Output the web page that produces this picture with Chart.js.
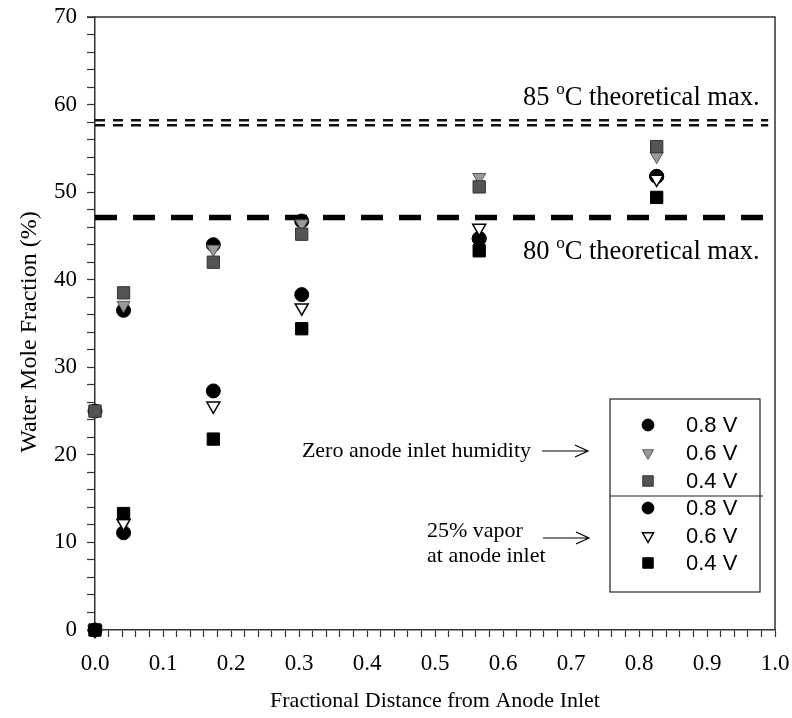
<!DOCTYPE html>
<html>
<head>
<meta charset="utf-8">
<script src="https://cdn.jsdelivr.net/npm/chart.js@4.4.0/dist/chart.umd.min.js"></script>
<style>
  html, body { margin: 0; padding: 0; background: #fff; }
  #wrap { width: 792px; height: 718px; }
</style>
</head>
<body>
<div id="wrap"><canvas id="chart" width="792" height="718"></canvas></div>
<script>
// fractional distance from the anode inlet where samples were taken
var distances = [0.0, 0.042, 0.174, 0.304, 0.565, 0.826];

// upper legend group (grey markers)
var zeroHum08 = [25.0, 36.5, 44.0, 46.7, 44.7, 51.8];
var zeroHum06 = [25.0, 37.1, 43.5, 46.4, 51.7, 54.1];
var zeroHum04 = [25.0, 38.5, 42.0, 45.2, 50.6, 55.2];

// lower legend group (black / open markers)
var vapor08 = [0.0, 11.1, 27.3, 38.3, 44.7, 51.8];
var vapor06 = [0.0, 12.2, 25.6, 36.8, 45.9, 51.5];
var vapor04 = [0.0, 13.3, 21.8, 34.4, 43.3, 49.4];

// theoretical maximum lines
var max80 = 47.1;
var max85 = [58.2, 57.65];
var max80Span = [0.0, 1.0];
var max85Span = [0.0, 0.99];

var legendLabels = ['0.8 V', '0.6 V', '0.4 V', '0.8 V', '0.6 V', '0.4 V'];

var SERIF = '"Liberation Serif", "Times New Roman", serif';
var SANS = '"Liberation Sans", Arial, sans-serif';

function toPoints(ys) {
	var pts = [];
	for (var i = 0; i < ys.length; i++) {
		pts.push({ x: distances[i], y: ys[i] });
	}
	return pts;
}

function flatLine(y, span) {
	return [{ x: span[0], y: y }, { x: span[1], y: y }];
}

// marker styles, same objects used for the plot and the hand drawn legend
var markers = [
	{ pointStyle: 'circle', rotation: 0, radius: 7, bg: '#000', border: '#000', bw: 1 },
	{ pointStyle: 'triangle', rotation: 180, radius: 7.5, bg: '#9a9a9a', border: '#5a5a5a', bw: 1 },
	{ pointStyle: 'rect', rotation: 0, radius: 8.7, bg: '#545454', border: '#333', bw: 1 },
	{ pointStyle: 'circle', rotation: 0, radius: 7, bg: '#000', border: '#000', bw: 1 },
	{ pointStyle: 'triangle', rotation: 180, radius: 7.5, bg: '#fff', border: '#000', bw: 1.5 },
	{ pointStyle: 'rect', rotation: 0, radius: 8.7, bg: '#000', border: '#000', bw: 1 }
];
var seriesData = [zeroHum08, zeroHum06, zeroHum04, vapor08, vapor06, vapor04];

var datasets = [];
for (var s = 0; s < seriesData.length; s++) {
	var m = markers[s];
	datasets.push({
		type: 'scatter',
		label: legendLabels[s],
		data: toPoints(seriesData[s]),
		pointStyle: m.pointStyle,
		pointRotation: m.rotation,
		pointRadius: m.radius,
		pointBackgroundColor: m.bg,
		pointBorderColor: m.border,
		pointBorderWidth: m.bw,
		clip: false,
		// first dataset is drawn last by chart.js, so reverse the order
		order: 10 - s
	});
}
datasets.push({
	type: 'line', label: '80', data: flatLine(max80, max80Span),
	borderColor: '#000', borderWidth: 5.5, borderDash: [22, 16], pointRadius: 0, order: 20
});
for (var k = 0; k < max85.length; k++) {
	datasets.push({
		type: 'line', label: '85', data: flatLine(max85[k], max85Span),
		borderColor: '#111', borderWidth: 2.5, borderDash: [10, 8], pointRadius: 0, order: 20
	});
}

// writes "NN oC theoretical max." with a raised small o
function drawMaxLabel(ctx, num, x, y) {
	ctx.save();
	ctx.fillStyle = '#000';
	ctx.textBaseline = 'middle';
	ctx.textAlign = 'left';
	ctx.font = '26.5px ' + SERIF;
	ctx.fillText(num + ' ', x, y);
	x += ctx.measureText(num + ' ').width;
	ctx.font = '17px ' + SERIF;
	ctx.fillText('o', x, y - 8);
	x += ctx.measureText('o').width;
	ctx.font = '26.5px ' + SERIF;
	ctx.fillText('C theoretical max.', x, y);
	ctx.restore();
}

function drawArrow(ctx, x1, x2, y) {
	ctx.beginPath();
	ctx.moveTo(x1, y);
	ctx.lineTo(x2, y);
	ctx.moveTo(x2 - 13, y - 6);
	ctx.lineTo(x2, y);
	ctx.lineTo(x2 - 13, y + 6);
	ctx.stroke();
}

var decorPlugin = {
	id: 'decor',
	afterDraw: function(chart) {
		var ctx = chart.ctx;
		var area = chart.chartArea;
		var yScale = chart.scales.y;

		// top and right frame
		ctx.save();
		ctx.strokeStyle = '#333';
		ctx.lineWidth = 1.5;
		ctx.beginPath();
		ctx.moveTo(area.left - 8, area.top);
		ctx.lineTo(area.right, area.top);
		ctx.lineTo(area.right, area.bottom);
		ctx.stroke();
		ctx.restore();

		// y axis title, sits a bit below the middle of the axis in the original
		ctx.save();
		ctx.translate(30, 332);
		ctx.rotate(-Math.PI / 2);
		ctx.font = '24px ' + SERIF;
		ctx.fillStyle = '#000';
		ctx.textAlign = 'center';
		ctx.textBaseline = 'middle';
		ctx.fillText('Water Mole Fraction (%)', 0, 0);
		ctx.restore();

		drawMaxLabel(ctx, '85', 523, yScale.getPixelForValue(60.8));
		drawMaxLabel(ctx, '80', 523, yScale.getPixelForValue(43.2));

		// legend box
		var boxL = 610, boxT = 399, boxW = 150, boxH = 193;
		ctx.save();
		ctx.strokeStyle = '#222';
		ctx.lineWidth = 1.2;
		ctx.strokeRect(boxL, boxT, boxW, boxH);
		ctx.beginPath();
		ctx.moveTo(boxL, 496);
		ctx.lineTo(boxL + boxW + 3, 496);
		ctx.stroke();

		var rowY = [425, 453, 481, 508, 536, 563];
		ctx.font = '22px ' + SANS;
		ctx.textBaseline = 'middle';
		ctx.textAlign = 'left';
		for (var i = 0; i < rowY.length; i++) {
			var mk = markers[i];
			ctx.fillStyle = mk.bg;
			ctx.strokeStyle = mk.border;
			ctx.lineWidth = mk.bw;
			Chart.helpers.drawPoint(ctx, {
				pointStyle: mk.pointStyle,
				rotation: mk.rotation,
				radius: mk.radius * 0.85,
				borderWidth: mk.bw
			}, 648, rowY[i]);
			ctx.fillStyle = '#000';
			ctx.fillText(legendLabels[i], 686, rowY[i] + 1);
		}

		// annotations with arrows
		ctx.fillStyle = '#000';
		ctx.strokeStyle = '#000';
		ctx.lineWidth = 1.2;
		ctx.font = '22px ' + SERIF;
		ctx.textAlign = 'right';
		ctx.fillText('Zero anode inlet humidity', 531, 451);
		drawArrow(ctx, 542, 588, 451);
		ctx.textAlign = 'left';
		ctx.fillText('25% vapor', 427, 531);
		ctx.fillText('at anode inlet', 427, 556);
		drawArrow(ctx, 543, 589, 538);
		ctx.restore();
	}
};

var chart = new Chart(document.getElementById('chart'), {
	type: 'scatter',
	data: { datasets: datasets },
	options: {
		responsive: false,
		animation: false,
		events: [],
		layout: { padding: { left: 0, top: 17, right: 17, bottom: 0 } },
		plugins: {
			legend: { display: false },
			tooltip: { enabled: false }
		},
		scales: {
			x: {
				type: 'linear',
				min: 0,
				max: 1,
				afterFit: function(scale) {
					scale.height = 88;
					scale.paddingLeft = 0;
					scale.paddingRight = 0;
				},
				border: { display: true, color: '#333', width: 1.5 },
				grid: { drawOnChartArea: false, tickLength: 7, color: '#333', tickWidth: 1.2 },
				ticks: {
					stepSize: 0.02,
					autoSkip: false,
					maxRotation: 0,
					padding: 13,
					color: '#000',
					font: { family: SERIF, size: 23 },
					callback: function(v) {
						var t = v * 10;
						return Math.abs(t - Math.round(t)) < 1e-6 ? v.toFixed(1) : '';
					}
				},
				title: {
					display: true,
					text: 'Fractional Distance from Anode Inlet',
					color: '#000',
					font: { family: SERIF, size: 22 },
					padding: { top: 10, bottom: 4 }
				}
			},
			y: {
				type: 'linear',
				min: 0,
				max: 70,
				afterFit: function(scale) {
					scale.width = 95;
					scale.paddingTop = 0;
					scale.paddingBottom = 0;
				},
				border: { display: true, color: '#333', width: 1.5 },
				grid: { drawOnChartArea: false, tickLength: 8, color: '#333', tickWidth: 1.2 },
				ticks: {
					stepSize: 2,
					autoSkip: false,
					padding: 10,
					color: '#000',
					font: { family: SERIF, size: 23 },
					callback: function(v) { return v % 10 === 0 ? String(v) : ''; }
				},
				title: { display: false }
			}
		}
	},
	plugins: [decorPlugin]
});
</script>
</body>
</html>
